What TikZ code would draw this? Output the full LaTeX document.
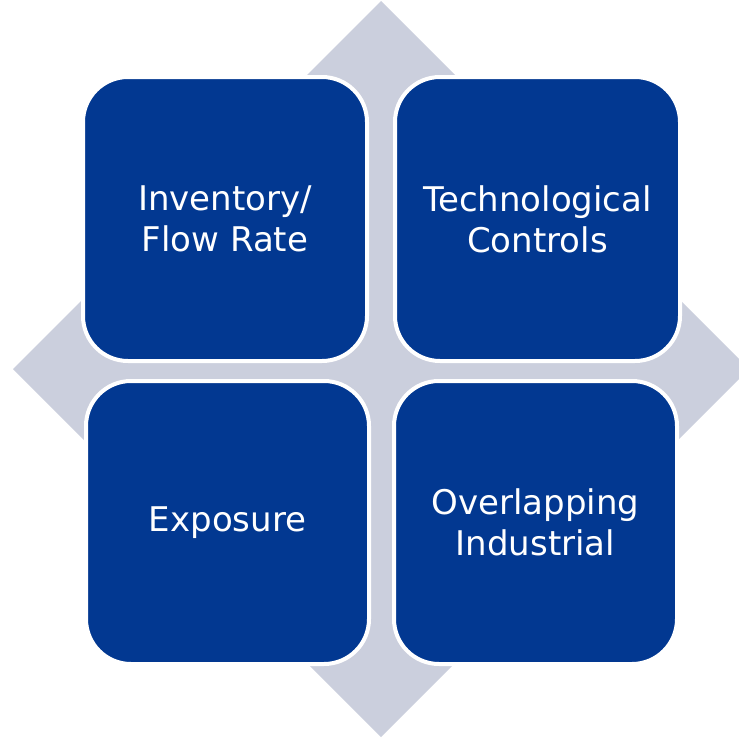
\documentclass[tikz,border=0pt]{standalone}
\usepackage{fontspec}
\setmainfont{DejaVu Sans}
\definecolor{tileblue}{RGB}{2,56,145}
\definecolor{diamondgray}{RGB}{203,207,221}
\begin{document}
\begin{tikzpicture}[x=1pt,y=-1pt,
  tile/.style={fill=tileblue, draw=white, line width=4pt, rounded corners=45pt},
  tiletext/.style={text=white, align=center, font=\fontsize{34}{41}\selectfont}]
\useasboundingbox (0,0) rectangle (739,739);
% background diamond
\begin{scope}
\clip (0,0) rectangle (739,739);
\fill[diamondgray] (381,1) -- (749,369) -- (381,737) -- (13,369) -- cycle;
\end{scope}
% four quadrant tiles
\draw[tile] (83,77) rectangle (367,361);
\draw[tile] (395,77) rectangle (680,361);
\draw[tile] (86,381) rectangle (369,664);
\draw[tile] (394,381) rectangle (677,664);
% labels
\node[tiletext] (inv) at (225,219) {Inventory/\\Flow Rate};
\node[tiletext] (tech) at (537.5,219) {Technological\\Controls};
\node[tiletext] (exp) at (227.5,522.5) {Exposure};
\node[tiletext] (over) at (535.5,522.5) {Overlapping\\Industrial};
\end{tikzpicture}
\end{document}
